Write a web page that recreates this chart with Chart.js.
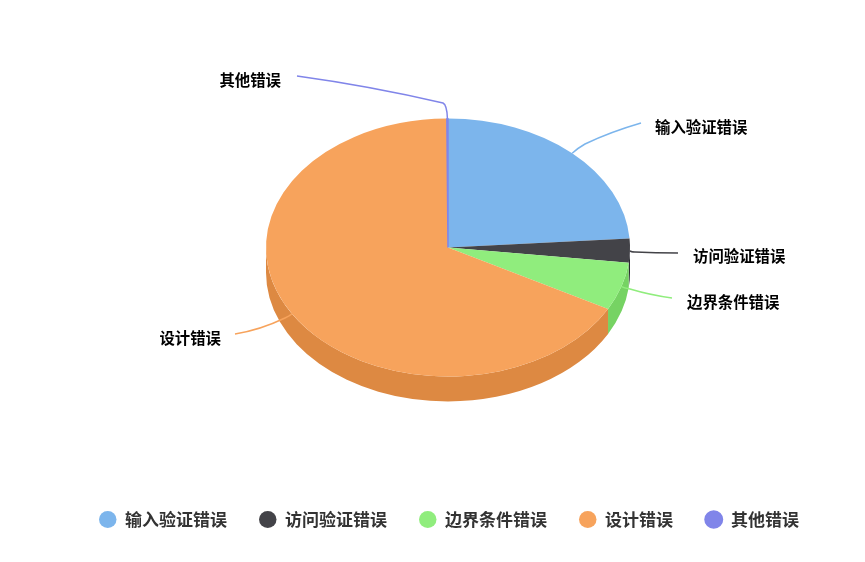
<!DOCTYPE html>
<html lang="zh">
<head>
<meta charset="UTF-8">
<title>错误类型分布</title>
<script src="https://cdn.jsdelivr.net/npm/chart.js"></script>
<style>
    html, body { margin: 0; padding: 0; background: #fff; }
    canvas { display: block; }
</style>
</head>
<body>
<canvas id="pieChart" width="865" height="562"></canvas>
<script>
const categories = ['输入验证错误', '访问验证错误', '边界条件错误', '设计错误', '其他错误'];
const values = [23.9, 3.0, 6.0, 67.0, 0.1];
const colors = ['#7cb5ec', '#434348', '#90ed7d', '#f7a35c', '#8085e9'];
const wallColors = ['#6399d0', '#2a2a2f', '#76d363', '#dd8942', '#666bcf'];

const FONT = '"Noto Sans CJK SC", "Noto Sans", sans-serif';
const SQUASH = 129 / 182;   // pie tilt, height / width of the top ellipse
const DEPTH = 25;           // wall height in px

// connector of each data label: curve ctrl, bend point, curve ctrl, end
const connectors = [
    [578, 148, 585, 144, 610, 132, 641, 123],
    [631, 252, 635, 252, 655, 253, 678, 253],
    [624, 288, 630, 289, 650, 295, 672, 298],
    [290, 316, 285, 318, 260, 330, 235, 334],
    [447, 105, 443, 103, 370, 86, 297, 76]
];
const labelPos = [
    [655, 127, 'left'],
    [693, 256, 'left'],
    [687, 302, 'left'],
    [221, 338, 'right'],
    [281, 80, 'right']
];

function squash(ctx, arc) {
    ctx.translate(arc.x, arc.y);
    ctx.scale(1, SQUASH);
    ctx.translate(-arc.x, -arc.y);
}

const pie3d = {
    id: 'pie3d',
    afterLayout(chart) {
        // legend sits 1px right of the pie centre
        chart.legend.left += 1;
        chart.legend.right += 1;
    },
    beforeDatasetsDraw(chart) {
        const ctx = chart.ctx;
        const arcs = chart.getDatasetMeta(0).data;
        ctx.save();
        squash(ctx, arcs[0]);
        arcs.forEach((arc, i) => {
            // only the front half of the rim shows
            const from = Math.max(arc.startAngle, 0);
            const to = Math.min(arc.endAngle, Math.PI);
            if (to <= from) return;
            ctx.beginPath();
            ctx.arc(arc.x, arc.y, arc.outerRadius, from, to);
            ctx.arc(arc.x, arc.y + DEPTH / SQUASH, arc.outerRadius, to, from, true);
            ctx.closePath();
            ctx.fillStyle = wallColors[i];
            ctx.fill();
        });
        ctx.restore();
        ctx.save();
        squash(ctx, arcs[0]);
    },
    afterDatasetsDraw(chart) {
        const ctx = chart.ctx;
        ctx.restore();
        chart.getDatasetMeta(0).data.forEach((arc, i) => {
            const mid = (arc.startAngle + arc.endAngle) / 2;
            const ax = arc.x + arc.outerRadius * Math.cos(mid);
            const ay = arc.y + arc.outerRadius * Math.sin(mid) * SQUASH;
            const c = connectors[i];
            ctx.beginPath();
            ctx.moveTo(ax, ay);
            ctx.quadraticCurveTo(c[0], c[1], c[2], c[3]);
            ctx.quadraticCurveTo(c[4], c[5], c[6], c[7]);
            ctx.strokeStyle = colors[i];
            ctx.lineWidth = 1.5;
            ctx.stroke();

            ctx.fillStyle = '#000';
            ctx.font = 'bold 15.4px ' + FONT;
            ctx.textAlign = labelPos[i][2];
            ctx.textBaseline = 'middle';
            ctx.fillText(categories[i], labelPos[i][0], labelPos[i][1]);
        });
    }
};

new Chart(document.getElementById('pieChart').getContext('2d'), {
    type: 'pie',
    data: {
        labels: categories,
        datasets: [{
            data: values,
            backgroundColor: colors,
            borderColor: colors,
            borderWidth: [0, 0, 0, 0, 1.5],
            radius: 182
        }]
    },
    options: {
        responsive: false,
        animation: false,
        layout: { padding: { top: 16, left: 37, right: 6, bottom: 24 } },
        plugins: {
            tooltip: { enabled: false },
            legend: {
                position: 'bottom',
                labels: {
                    usePointStyle: true,
                    pointStyle: 'circle',
                    pointStyleWidth: 17.5,
                    boxHeight: 12,
                    padding: 32,
                    color: '#333333',
                    font: { family: FONT, size: 17, weight: 'bold' }
                }
            }
        }
    },
    plugins: [pie3d]
});
</script>
</body>
</html>
